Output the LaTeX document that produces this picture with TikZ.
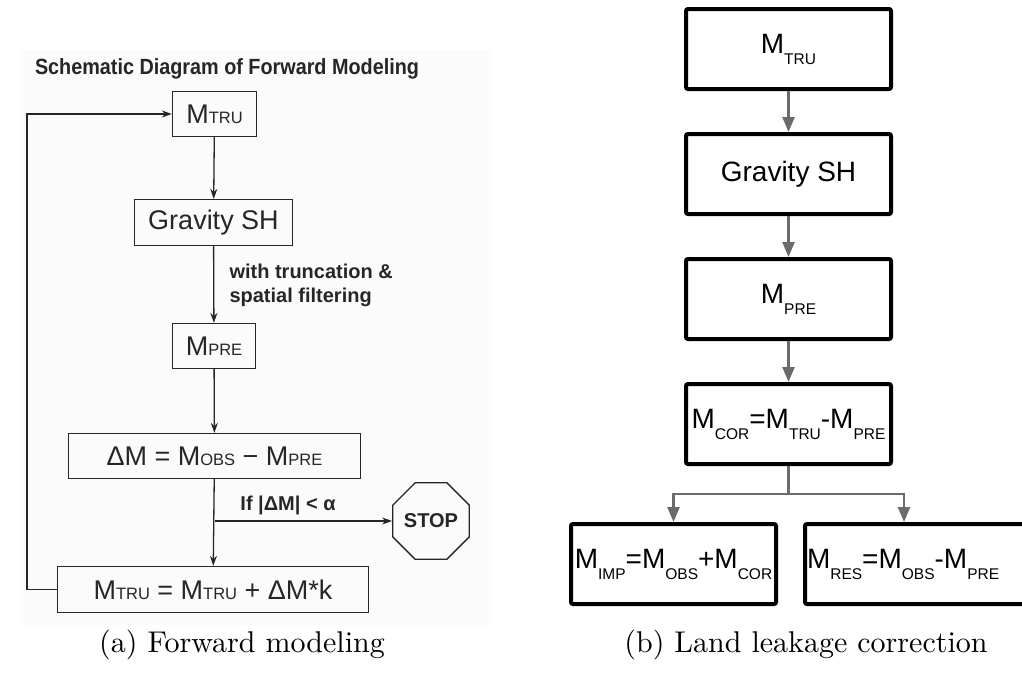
\documentclass[tikz,border=0pt]{standalone}
\usepackage{fontspec}
\newfontfamily\arial{Liberation Sans}
\newfontfamily\capfont{lmroman10-regular}[Extension=.otf]
\usetikzlibrary{shapes.geometric, arrows.meta, positioning, calc}
\newcommand{\lsc}[1]{{\fontsize{16.5}{16}\selectfont #1}}
\newcommand{\rsub}[1]{\raisebox{-11pt}{\fontsize{15.5}{16}\selectfont #1}}

\begin{document}
\begin{tikzpicture}[x=1pt, y=-1pt, node distance=41pt,
  l/.style={rectangle,draw=black!85,line width=1.3pt,inner sep=0pt,text=black!85,font=\arial\fontsize{27}{28}\selectfont},
  lt/.style={text=black!85,font=\arial\bfseries\fontsize{20}{24}\selectfont},
  la/.style={-{Stealth[length=10pt,width=7pt]},line width=1.3pt,black!85},
  r/.style={rectangle,draw=black,line width=4pt,rounded corners=2pt,minimum width=205pt,minimum height=80pt,inner sep=2pt,font=\arial\fontsize{28}{30}\selectfont},
  ra/.style={-{Triangle[length=15pt,width=12pt]},line width=2.5pt,black!58}]
  \useasboundingbox (0,0) rectangle (1022,675);
  \clip (0,0) rectangle (1022,675);
  \fill[black!1.5] (20,50) rectangle (492,625);
  \node[lt,font=\arial\bfseries\fontsize{22}{24}\selectfont](title) at (227,69){\scalebox{0.9}[1]{Schematic Diagram of Forward Modeling}};
  \node[l,minimum width=84pt,minimum height=45pt](ltru) at (214.5,114){M\lsc{TRU}};
  \node[l,minimum width=158pt,minimum height=46pt](lgrav) at (213.5,222.5){Gravity SH};
  \node[l,minimum width=83pt,minimum height=45pt](lpre) at (214,346){M\lsc{PRE}};
  \node[l,minimum width=292pt,minimum height=45pt](ldm) at (214.5,456){ΔM = M\lsc{OBS} − M\lsc{PRE}};
  \node[l,minimum width=311pt,minimum height=46pt](lupd) at (213,589.5){M\lsc{TRU} = M\lsc{TRU} + ΔM*k};
  \node[regular polygon,regular polygon sides=8,draw=black!85,line width=1.3pt,minimum size=67pt,inner sep=0pt,text=black!85,font=\arial\bfseries\fontsize{20}{20}\selectfont](stop) at (431,521){STOP};
  \node[lt,anchor=west,align=left](lfilt) at (226,285){with truncation \&\\spatial filtering};
  \node[lt](lcond) at (288,505){If |ΔM| < α};
  \foreach \x/\y in {ltru/lgrav,lgrav/lpre,lpre/ldm,ldm/lupd}{\draw[la](\x)--(\y);}
  \draw[la](ldm.south |- stop.west)--(stop.west);
  \draw[la](lupd.west)--++(-30,0)|-(ltru.west);

  \node[r](rtru) at (788.5,49){M\rsub{TRU}};
  \node[r,below=of rtru](rgrav){Gravity SH};
  \node[r,below=of rgrav](rpre){M\rsub{PRE}};
  \node[r,below=of rpre](rcor){M\rsub{COR}=M\rsub{TRU}-M\rsub{PRE}};
  \node[r,below=56pt of rcor,xshift=-115pt](rimp){M\rsub{IMP}=M\rsub{OBS}+M\rsub{COR}};
  \node[r,text width=222pt,align=left,below=56pt of rcor,xshift=129.5pt](rres){M\rsub{RES}=M\rsub{OBS}-M\rsub{PRE}};
  \foreach \x/\y in {rtru/rgrav,rgrav/rpre,rpre/rcor}{\draw[ra](\x)--(\y);}
  \draw[ra](rcor.south)--(rcor.south |- 0,494)-|(rimp.north);
  \draw[ra](rcor.south |- 0,494)-|([xshift=-14pt]rres.north);

  \node[font=\capfont\fontsize{30}{32}\selectfont](capa) at (242,645){(a) Forward modeling};
  \node[font=\capfont\fontsize{30}{32}\selectfont](capb) at (806,645){(b) Land leakage correction};
\end{tikzpicture}
\end{document}
